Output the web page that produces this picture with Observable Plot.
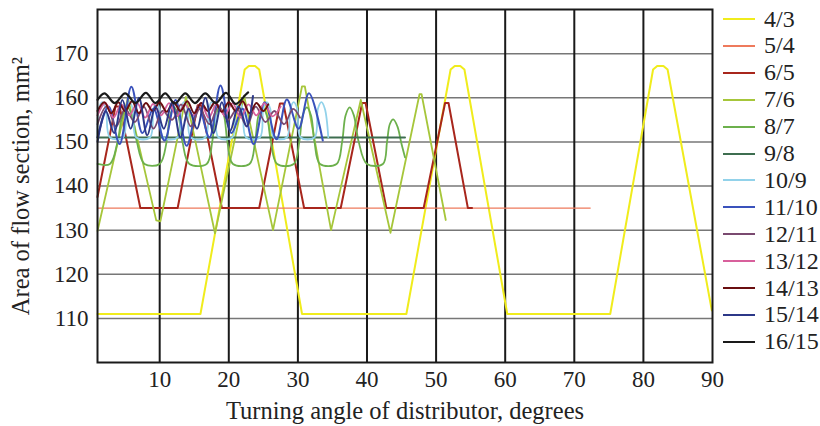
<!DOCTYPE html>
<html>
<head>
<meta charset="utf-8">
<script src="https://cdn.jsdelivr.net/npm/d3@7"></script>
<script src="https://cdn.jsdelivr.net/npm/@observablehq/plot@0.6"></script>
<style>
  html, body { margin: 0; padding: 0; background: #fff; }
  #wrap { position: relative; width: 820px; height: 426px; overflow: hidden; }
  #legend { position: absolute; left: 723px; top: 0; font-family: "Liberation Serif", serif; font-size: 24px; color: #222; }
  .item { position: absolute; left: 0; height: 26px; display: flex; align-items: center; white-space: nowrap; }
  .sw { width: 32px; height: 0; border-top: 2.5px solid; margin-right: 9px; }
  svg [aria-label="x-axis label"] text, svg [aria-label="y-axis label"] text { font-size: 24.5px; }
  svg [aria-label="x-axis label"], svg [aria-label="y-axis label"] { font-size: 24.5px; }
</style>
</head>
<body>
<div id="wrap"><div id="legend"></div></div>
<script>
// ---- data (angle in degrees, area in mm²) ----
const seriesNames = ["4/3","5/4","6/5","7/6","8/7","9/8","10/9","11/10","12/11","13/12","14/13","15/14","16/15"];
const seriesColors = ["#f0ec1c","#ee7a5c","#a8261c","#a6c63a","#6cb04c","#3e6e50","#92d2ea","#3a52bc","#7a4a70","#d8609c","#6a0e10","#2c3888","#1a1a1a"];
const xTicks = [10,20,30,40,50,60,70,80,90];
const yTicks = [110,120,130,140,150,160,170];

const s43 = [[1,111],[15.9,111],[22.3,166.4],[22.9,167.2],[23.8,167.2],[24.4,166.4],[30.6,111],[45.7,111],[52.1,166.4],[52.7,167.2],[53.5,167.2],[54.1,166.4],[60.3,111],[75.2,111],[81.4,166.4],[82,167.2],[82.9,167.2],[83.5,166.4],[89.9,111.8]];
const s54 = [[1,135],[72.3,135]];
const s65 = [[1,137.5],[3.6,158],[4.2,158],[7.2,135],[12.6,135],[15.5,158.3],[16,158.3],[19,135],[24.4,135],[27.4,158.7],[27.9,158.7],[30.9,135],[36.2,135],[39.3,158.8],[39.8,158.8],[42.8,135],[48.2,135],[51.3,158.8],[51.8,158.8],[54.6,135],[55.2,135]];
const s76 = [[1,129.8],[5.4,160],[9.5,132.2],[10.1,132],[13.8,160.2],[18,129.3],[22.2,160.5],[26.4,130],[30.6,162.6],[31,162.6],[34.8,130],[39.1,159.5],[43.4,129.4],[47.6,160.8],[47.9,160.8],[51.4,132.3]];
const s87 = [[1,145],[2.8,145],[3.9,150],[4.6,156],[5.3,157.8],[6,156],[6.7,150],[7.8,145],[10,145],[11,150],[11.5,156],[12.1,157.8],[12.7,156],[13.3,150],[14.3,145],[16.8,145],[17.6,150],[18.1,156],[18.7,157.8],[19.3,156],[19.8,150],[20.6,145],[23,145],[23.8,150],[24.3,156],[24.9,157.8],[25.5,156],[26.1,150],[27,145],[29.4,145],[30.2,150],[30.7,156],[31.3,157.8],[31.9,156],[32.4,150],[33.2,145],[35.6,145],[36.4,150],[36.9,156],[37.5,157.8],[38.1,156],[38.8,150],[40,145],[42.3,145],[42.9,150],[43.3,154],[43.8,155.1],[44.4,153.5],[45,149.5],[45.5,146.5]];
const s98 = [[1,151],[45.5,151]];
const s109 = [[1,151],[1.2,157.5],[1.7,159],[2.2,157.5],[2.8,151],[4.7,151],[5.2,157.5],[5.6,159],[6.1,157.5],[6.6,151],[8.6,151],[9.1,157.5],[9.5,159],[10,157.5],[10.5,151],[12.6,151],[13.1,157.5],[13.5,159],[14,157.5],[14.5,151],[16.6,151],[17.1,157.5],[17.5,159],[18,157.5],[18.5,151],[20.5,151],[21,157.5],[21.5,159],[22,157.5],[22.5,151],[24.5,151],[25,157.5],[25.5,159],[26,157.5],[26.5,151],[28.4,151],[28.9,157.5],[29.4,159],[29.9,157.5],[30.4,151],[32.4,151],[32.9,157.5],[33.4,159],[33.9,157.5],[34.4,151]];
const s1110 = [[1,151],[2.6,158],[4.2,149.5],[5.9,162.5],[7.5,152],[9.1,157.5],[10.7,150.3],[12.3,159.5],[13.9,149.1],[15.6,158],[17.2,151],[18.8,162.8],[20.4,152],[22,157.5],[23.6,149.5],[25.2,159],[26.9,150.6],[28.4,159.6],[30.1,153],[31.6,161],[33.6,150.3]];
const s1211 = [[1,154],[2.3,158],[3.7,153.5],[5,157.5],[6.4,154.5],[7.7,158],[9.1,153],[10.4,157],[11.8,155],[13.1,158.5],[14.5,153.5],[15.8,157.5],[17.2,154],[18.5,158],[19.9,155],[21.2,157.5],[22.6,153.5],[23.9,158],[25.3,154.5],[26.6,157],[28,154],[29.3,157.5],[30.3,155.5]];
const s1312 = [[1,156],[2.15,158.8],[3.3,155.5],[4.45,158.5],[5.6,156],[6.75,158.8],[7.9,155.5],[9.05,158.6],[10.2,156],[11.35,158.8],[12.5,155.8],[13.65,158.5],[14.8,156],[15.95,158.8],[17.1,155.5],[18.25,158.6],[19.4,156],[20.55,158.8],[21.7,155.5],[22.85,158.5],[24,156],[25.15,158.8],[26.3,155.8],[27.5,158]];
const s1413 = [[1,157],[2,159],[3,156.5],[4,159],[5,157],[6,159.2],[7,156.5],[8,158.8],[9,157],[10,159],[11,156.8],[12,159],[13,157],[14,159.2],[15,156.5],[16,158.8],[17,157],[18,159],[19,156.8],[20,159],[21,157],[22,159.2],[23,156.5],[24,158.8],[25,157],[25.7,158.5]];
const s1514 = [[1,150],[2.2,157],[3.4,152],[4.6,159.5],[5.8,153],[7,160],[8.2,151.5],[9.4,158],[10.6,153],[11.8,159],[13,151],[14.2,157.5],[15.4,153],[16.6,160],[17.8,152],[19,159],[20.2,152.5],[21.4,158],[22.6,153.5],[23.5,160.4]];
const s1615 = [[1,159.5],[2,161],[3.5,158.8],[5,161],[6.5,158.8],[8,161.1],[9.4,158.8],[10.8,161],[12.2,158.7],[13.7,161],[15.1,158.8],[16.6,161],[18.1,158.8],[19.6,161.1],[21,158.6],[22.5,160.8],[22.8,161.2]];

const seriesData = [s43,s54,s65,s76,s87,s98,s109,s1110,s1211,s1312,s1413,s1514,s1615];
const seriesWidths = [2,1.3,2,1.8,1.8,2,1.8,2,1.8,1.8,2,2,2.2];
const smooth = [false,false,false,false,true,false,true,true,true,true,true,true,true];

const lineMarks = seriesData.map((pts, i) => Plot.line(pts, {
  x: d => d[0], y: d => d[1],
  stroke: seriesColors[i], strokeWidth: seriesWidths[i],
  curve: smooth[i] ? "catmull-rom" : "linear"
}));

const chart = Plot.plot({
  width: 820, height: 426,
  marginLeft: 97, marginRight: 108, marginTop: 9, marginBottom: 64,
  style: { fontFamily: "Liberation Serif, serif", fontSize: "23px", color: "#222", background: "transparent" },
  x: { domain: [1, 90] },
  y: { domain: [100, 180] },
  marks: [
    Plot.gridY(yTicks, { stroke: "#777", strokeWidth: 1.5, strokeOpacity: 1 }),
    Plot.gridX(xTicks.slice(0, -1), { stroke: "#1a1a1a", strokeWidth: 2, strokeOpacity: 1 }),
    ...lineMarks,
    Plot.frame({ stroke: "#1a1a1a", strokeWidth: 2 }),
    Plot.axisX(xTicks, { tickSize: 0, tickPadding: 8, label: "Turning angle of distributor, degrees", labelAnchor: "center", labelArrow: "none", labelOffset: 56 }),
    Plot.axisY(yTicks, { tickSize: 0, tickPadding: 9, label: "Area of flow section, mm²", labelAnchor: "center", labelArrow: "none", labelOffset: 86 })
  ]
});
document.getElementById("wrap").prepend(chart);

const legend = document.getElementById("legend");
seriesNames.forEach((name, i) => {
  const it = document.createElement("div");
  it.className = "item";
  it.style.top = (6 + 26.9 * i) + "px";
  const sw = document.createElement("span");
  sw.className = "sw";
  sw.style.borderTopColor = seriesColors[i];
  const tx = document.createElement("span");
  tx.textContent = name;
  it.append(sw, tx);
  legend.append(it);
});
</script>
</body>
</html>
